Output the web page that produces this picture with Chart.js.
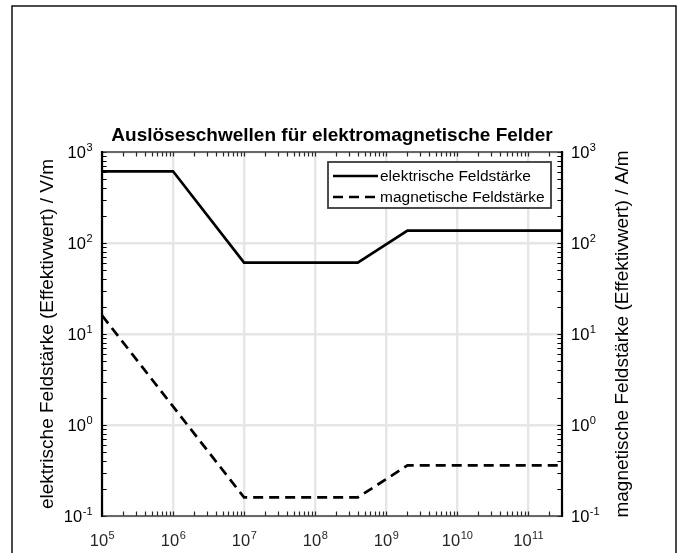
<!DOCTYPE html>
<html>
<head>
<meta charset="utf-8">
<script src="https://cdn.jsdelivr.net/npm/chart.js@4/dist/chart.umd.min.js"></script>
<style>
  html, body { margin: 0; padding: 0; background: #ffffff; }
  #wrap { width: 677px; height: 553px; position: relative; }
</style>
</head>
<body>
<div id="wrap"><canvas id="chart" width="677" height="553"></canvas></div>
<script>
// Frequency breakpoints (Hz) and the threshold values at each breakpoint
const frequencyHz   = [1e5, 1e6, 1e7, 4e8, 2e9, 3e11];
const electricField = [614, 614, 61, 61, 137, 137];      // V/m
const magneticField = [16, 1.6, 0.16, 0.16, 0.36, 0.36]; // A/m

const seriesLabels = ['elektrische Feldstärke', 'magnetische Feldstärke'];
const chartTitle = 'Auslöseschwellen für elektromagnetische Felder';
const leftAxisTitle = 'elektrische Feldstärke (Effektivwert) / V/m';
const rightAxisTitle = 'magnetische Feldstärke (Effektivwert) / A/m';

// Decade tick values for the axes
const xTickValues = [1e5, 1e6, 1e7, 1e8, 1e9, 1e10, 1e11];
const yTickValues = [0.1, 1, 10, 100, 1000];
const xRange = [1e5, 3e11];
const yRange = [0.1, 1000];

const FONT = '"Liberation Sans", Arial, Helvetica, sans-serif';
const TICK_FONT = '16.5px ' + FONT;
const EXP_FONT = '11px ' + FONT;
const AXIS_DARK = '#262626';
const GRID = '#e6e6e6';

function toPoints(xs, ys) { return xs.map((x, i) => ({ x: x, y: ys[i] })); }

function decadeTicks(values) {
  return function (scale) { scale.ticks = values.map(v => ({ value: v, major: true })); };
}

// "10" with a raised exponent
function drawPower(ctx, value, x, baseline, align, color) {
  const exp = String(Math.round(Math.log10(value)));
  ctx.save();
  ctx.fillStyle = color;
  ctx.textBaseline = 'alphabetic';
  ctx.textAlign = 'left';
  ctx.font = TICK_FONT;
  const wb = ctx.measureText('10').width;
  ctx.font = EXP_FONT;
  const we = ctx.measureText(exp).width;
  const total = wb + we;
  const x0 = align === 'right' ? x - total : align === 'center' ? x - total / 2 : x;
  ctx.font = TICK_FONT;
  ctx.fillText('10', x0, baseline);
  ctx.font = EXP_FONT;
  ctx.fillText(exp, x0 + wb + 0.5, baseline - 7);
  ctx.restore();
}

function minorValues(lo, hi) {
  const out = [];
  for (let d = Math.floor(Math.log10(lo)); d <= Math.ceil(Math.log10(hi)); d++) {
    for (let m = 1; m <= 9; m++) {
      const v = m * Math.pow(10, d);
      if (v >= lo * 0.999 && v <= hi * 1.001) out.push(v);
    }
  }
  return out;
}

const decorations = {
  id: 'decorations',
  afterDatasetsDraw(chart) {
    const ctx = chart.ctx;
    const a = chart.chartArea;
    const xs = chart.scales.x, yl = chart.scales.y, yr = chart.scales.y2;
    const tickLen = 4.6;

    ctx.save();
    // ticks along top and bottom
    ctx.strokeStyle = AXIS_DARK;
    ctx.lineWidth = 1.2;
    minorValues(xRange[0], xRange[1]).forEach(v => {
      const px = Math.round(xs.getPixelForValue(v)) + 0.5;
      ctx.beginPath();
      ctx.moveTo(px, a.bottom); ctx.lineTo(px, a.bottom - tickLen);
      ctx.moveTo(px, a.top); ctx.lineTo(px, a.top + tickLen);
      ctx.stroke();
    });
    // ticks along the left and right axes
    ctx.strokeStyle = '#000';
    minorValues(yRange[0], yRange[1]).forEach(v => {
      const pyl = Math.round(yl.getPixelForValue(v)) + 0.5;
      const pyr = Math.round(yr.getPixelForValue(v)) + 0.5;
      ctx.beginPath();
      ctx.moveTo(a.left, pyl); ctx.lineTo(a.left + tickLen, pyl);
      ctx.moveTo(a.right, pyr); ctx.lineTo(a.right - tickLen, pyr);
      ctx.stroke();
    });

    // axis lines
    ctx.lineWidth = 1.6;
    ctx.strokeStyle = '#404040';
    ctx.beginPath();
    ctx.moveTo(a.left, a.bottom); ctx.lineTo(a.right, a.bottom);
    ctx.moveTo(a.left, a.top); ctx.lineTo(a.right, a.top);
    ctx.stroke();
    ctx.lineWidth = 2.2;
    ctx.strokeStyle = '#000';
    ctx.beginPath();
    ctx.moveTo(a.left, a.top - 1); ctx.lineTo(a.left, a.bottom + 1);
    ctx.moveTo(a.right, a.top - 1); ctx.lineTo(a.right, a.bottom + 1);
    ctx.stroke();

    // tick labels
    xTickValues.forEach(v => drawPower(ctx, v, xs.getPixelForValue(v), 546, 'center', AXIS_DARK));
    yTickValues.forEach(v => {
      drawPower(ctx, v, 92, yl.getPixelForValue(v) + 6, 'right', '#000');
      drawPower(ctx, v, 571, yr.getPixelForValue(v) + 6, 'left', '#000');
    });

    // axis titles
    ctx.fillStyle = '#000';
    ctx.font = '19px ' + FONT;
    ctx.textAlign = 'center';
    ctx.textBaseline = 'middle';
    const midY = (a.top + a.bottom) / 2;
    ctx.save();
    ctx.translate(48, midY); ctx.rotate(-Math.PI / 2);
    ctx.fillText(leftAxisTitle, 0, 0);
    ctx.restore();
    ctx.save();
    ctx.translate(623, midY); ctx.rotate(-Math.PI / 2);
    ctx.fillText(rightAxisTitle, 0, 0);
    ctx.restore();

    // title
    ctx.font = 'bold 19px ' + FONT;
    ctx.textBaseline = 'alphabetic';
    ctx.fillText(chartTitle, (a.left + a.right) / 2, 141);

    // legend
    const box = { l: 328, t: 162, r: 551, b: 208 };
    ctx.fillStyle = '#fff';
    ctx.fillRect(box.l, box.t, box.r - box.l, box.b - box.t);
    ctx.strokeStyle = '#3a3a3a';
    ctx.lineWidth = 1.8;
    ctx.strokeRect(box.l, box.t, box.r - box.l, box.b - box.t);
    ctx.font = '15.5px ' + FONT;
    ctx.textAlign = 'left';
    ctx.textBaseline = 'middle';
    chart.data.datasets.forEach((ds, i) => {
      const ly = 176 + i * 21;
      ctx.strokeStyle = ds.borderColor;
      ctx.lineWidth = ds.borderWidth;
      ctx.setLineDash(ds.borderDash || []);
      ctx.beginPath();
      ctx.moveTo(333, ly); ctx.lineTo(378, ly);
      ctx.stroke();
      ctx.setLineDash([]);
      ctx.fillStyle = '#000';
      ctx.fillText(ds.label, 380, ly + 1);
    });

    // figure frame
    ctx.strokeStyle = '#111';
    ctx.lineWidth = 1.5;
    ctx.beginPath();
    ctx.moveTo(12, 560); ctx.lineTo(12, 6); ctx.lineTo(676, 6); ctx.lineTo(676, 560);
    ctx.stroke();
    ctx.restore();
  }
};

new Chart(document.getElementById('chart'), {
  type: 'line',
  data: {
    datasets: [
      {
        label: seriesLabels[0],
        data: toPoints(frequencyHz, electricField),
        yAxisID: 'y',
        borderColor: '#000',
        borderWidth: 2.7,
        pointRadius: 0,
        tension: 0,
        fill: false
      },
      {
        label: seriesLabels[1],
        data: toPoints(frequencyHz, magneticField),
        yAxisID: 'y2',
        borderColor: '#000',
        borderWidth: 2.7,
        borderDash: [10, 6],
        pointRadius: 0,
        tension: 0,
        fill: false
      }
    ]
  },
  options: {
    responsive: false,
    animation: false,
    devicePixelRatio: 1,
    layout: { padding: { top: 152, left: 0, right: 0, bottom: 0 } },
    plugins: { legend: { display: false }, title: { display: false }, tooltip: { enabled: false } },
    scales: {
      x: {
        type: 'logarithmic',
        min: xRange[0], max: xRange[1],
        afterBuildTicks: decadeTicks(xTickValues),
        afterFit(scale) { scale.height = 37; },
        ticks: { display: false },
        grid: { color: GRID, lineWidth: 2.4, drawTicks: false },
        border: { display: false }
      },
      y: {
        type: 'logarithmic',
        position: 'left',
        min: yRange[0], max: yRange[1],
        afterBuildTicks: decadeTicks(yTickValues),
        afterFit(scale) { scale.width = 102; },
        ticks: { display: false },
        grid: { color: GRID, lineWidth: 2.4, drawTicks: false },
        border: { display: false }
      },
      y2: {
        type: 'logarithmic',
        position: 'right',
        min: yRange[0], max: yRange[1],
        afterBuildTicks: decadeTicks(yTickValues),
        afterFit(scale) { scale.width = 115; },
        ticks: { display: false },
        grid: { display: false, drawTicks: false },
        border: { display: false }
      }
    }
  },
  plugins: [decorations]
});
</script>
</body>
</html>
